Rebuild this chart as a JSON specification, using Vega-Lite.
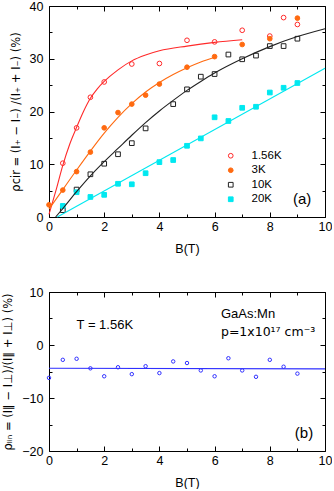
{
  "$schema": "https://vega.github.io/schema/vega-lite/v6.json",
  "padding": {"top": 0, "left": 2, "right": 0, "bottom": 0},
  "spacing": 31,
  "config": {
    "font": "Liberation Sans",
    "view": {"stroke": null},
    "axis": {"grid": false, "domainColor": "#000", "tickColor": "#000", "labelFontSize": 12.5, "titleFontSize": 11.5, "titleFontWeight": "normal", "labelColor": "#000", "titleColor": "#000", "labelFont": "Liberation Sans", "titleFont": "DejaVu Sans"}
  },
  "datasets": {
    "pts": [
      {"B": 0.5, "rho": 10.2, "T": "1.56K"}, {"B": 1.0, "rho": 16.9, "T": "1.56K"}, {"B": 1.5, "rho": 22.7, "T": "1.56K"}, {"B": 2.0, "rho": 25.6, "T": "1.56K"}, {"B": 3.0, "rho": 29.0, "T": "1.56K"}, {"B": 4.0, "rho": 29.1, "T": "1.56K"}, {"B": 5.0, "rho": 33.5, "T": "1.56K"}, {"B": 6.0, "rho": 33.2, "T": "1.56K"}, {"B": 7.0, "rho": 35.4, "T": "1.56K"}, {"B": 8.0, "rho": 34.3, "T": "1.56K"}, {"B": 8.5, "rho": 37.8, "T": "1.56K"}, {"B": 9.0, "rho": 36.5, "T": "1.56K"},
      {"B": 0.0, "rho": 2.3, "T": "3K"}, {"B": 0.5, "rho": 5.1, "T": "3K"}, {"B": 1.0, "rho": 8.6, "T": "3K"}, {"B": 1.5, "rho": 12.3, "T": "3K"}, {"B": 2.0, "rho": 16.9, "T": "3K"}, {"B": 2.5, "rho": 19.8, "T": "3K"}, {"B": 3.0, "rho": 21.4, "T": "3K"}, {"B": 3.5, "rho": 23.1, "T": "3K"}, {"B": 4.0, "rho": 25.2, "T": "3K"}, {"B": 5.0, "rho": 28.4, "T": "3K"}, {"B": 6.0, "rho": 30.4, "T": "3K"}, {"B": 7.0, "rho": 32.7, "T": "3K"}, {"B": 8.0, "rho": 33.8, "T": "3K"}, {"B": 9.0, "rho": 37.7, "T": "3K"},
      {"B": 0.5, "rho": 1.3, "T": "10K"}, {"B": 1.0, "rho": 5.2, "T": "10K"}, {"B": 1.5, "rho": 8.1, "T": "10K"}, {"B": 2.0, "rho": 10.1, "T": "10K"}, {"B": 2.5, "rho": 11.9, "T": "10K"}, {"B": 3.0, "rho": 14.0, "T": "10K"}, {"B": 3.5, "rho": 16.8, "T": "10K"}, {"B": 4.5, "rho": 21.4, "T": "10K"}, {"B": 5.0, "rho": 24.2, "T": "10K"}, {"B": 5.5, "rho": 26.6, "T": "10K"}, {"B": 6.0, "rho": 27.1, "T": "10K"}, {"B": 6.5, "rho": 30.8, "T": "10K"}, {"B": 7.0, "rho": 29.9, "T": "10K"}, {"B": 7.5, "rho": 30.6, "T": "10K"}, {"B": 8.0, "rho": 32.4, "T": "10K"}, {"B": 8.5, "rho": 32.4, "T": "10K"}, {"B": 9.0, "rho": 33.8, "T": "10K"},
      {"B": 0.5, "rho": 2.1, "T": "20K"}, {"B": 1.0, "rho": 4.7, "T": "20K"}, {"B": 1.5, "rho": 3.8, "T": "20K"}, {"B": 2.0, "rho": 4.2, "T": "20K"}, {"B": 2.5, "rho": 6.3, "T": "20K"}, {"B": 3.0, "rho": 6.2, "T": "20K"}, {"B": 3.5, "rho": 8.3, "T": "20K"}, {"B": 4.0, "rho": 10.4, "T": "20K"}, {"B": 4.5, "rho": 10.8, "T": "20K"}, {"B": 5.0, "rho": 13.5, "T": "20K"}, {"B": 5.5, "rho": 14.9, "T": "20K"}, {"B": 6.0, "rho": 18.9, "T": "20K"}, {"B": 6.5, "rho": 18.2, "T": "20K"}, {"B": 7.0, "rho": 20.7, "T": "20K"}, {"B": 7.5, "rho": 20.9, "T": "20K"}, {"B": 8.0, "rho": 23.6, "T": "20K"}, {"B": 8.5, "rho": 24.5, "T": "20K"}, {"B": 9.0, "rho": 25.4, "T": "20K"}
    ],
    "fits": [
      {"B": 0.0, "rho": 0.5, "T": "1.56K"}, {"B": 0.25, "rho": 5.0, "T": "1.56K"}, {"B": 0.5, "rho": 9.8, "T": "1.56K"}, {"B": 0.75, "rho": 13.8, "T": "1.56K"}, {"B": 1.0, "rho": 17.0, "T": "1.56K"}, {"B": 1.25, "rho": 20.0, "T": "1.56K"}, {"B": 1.5, "rho": 22.5, "T": "1.56K"}, {"B": 1.75, "rho": 24.3, "T": "1.56K"}, {"B": 2.0, "rho": 25.7, "T": "1.56K"}, {"B": 2.5, "rho": 27.9, "T": "1.56K"}, {"B": 3.0, "rho": 29.6, "T": "1.56K"}, {"B": 3.5, "rho": 30.7, "T": "1.56K"}, {"B": 4.0, "rho": 31.5, "T": "1.56K"}, {"B": 5.0, "rho": 32.4, "T": "1.56K"}, {"B": 6.0, "rho": 33.1, "T": "1.56K"}, {"B": 7.0, "rho": 33.6, "T": "1.56K"},
      {"B": 0.0, "rho": 1.5, "T": "3K"}, {"B": 0.5, "rho": 5.2, "T": "3K"}, {"B": 1.0, "rho": 8.9, "T": "3K"}, {"B": 1.5, "rho": 12.5, "T": "3K"}, {"B": 2.0, "rho": 15.9, "T": "3K"}, {"B": 2.5, "rho": 18.9, "T": "3K"}, {"B": 3.0, "rho": 21.5, "T": "3K"}, {"B": 3.5, "rho": 23.7, "T": "3K"}, {"B": 4.0, "rho": 25.5, "T": "3K"}, {"B": 4.5, "rho": 27.0, "T": "3K"}, {"B": 5.0, "rho": 28.3, "T": "3K"}, {"B": 5.5, "rho": 29.4, "T": "3K"}, {"B": 6.0, "rho": 30.3, "T": "3K"},
      {"B": 0.24, "rho": 0.0, "T": "10K"}, {"B": 0.5, "rho": 1.6, "T": "10K"}, {"B": 1.0, "rho": 4.8, "T": "10K"}, {"B": 1.5, "rho": 7.8, "T": "10K"}, {"B": 2.0, "rho": 10.5, "T": "10K"}, {"B": 2.5, "rho": 13.0, "T": "10K"}, {"B": 3.0, "rho": 15.5, "T": "10K"}, {"B": 3.5, "rho": 17.9, "T": "10K"}, {"B": 4.0, "rho": 20.1, "T": "10K"}, {"B": 4.5, "rho": 22.1, "T": "10K"}, {"B": 5.0, "rho": 24.0, "T": "10K"}, {"B": 5.5, "rho": 25.7, "T": "10K"}, {"B": 6.0, "rho": 27.3, "T": "10K"}, {"B": 7.0, "rho": 30.0, "T": "10K"}, {"B": 8.0, "rho": 32.3, "T": "10K"}, {"B": 9.0, "rho": 34.2, "T": "10K"}, {"B": 10.0, "rho": 35.7, "T": "10K"},
      {"B": 0.3, "rho": 0.0, "T": "20K"}, {"B": 10.0, "rho": 28.2, "T": "20K"}
    ],
    "lin": [
      {"B": 0.0, "rho": -6.2}, {"B": 0.5, "rho": -2.8}, {"B": 1.0, "rho": -2.6}, {"B": 1.5, "rho": -4.4}, {"B": 2.0, "rho": -5.9}, {"B": 2.5, "rho": -4.2}, {"B": 3.0, "rho": -5.5}, {"B": 3.5, "rho": -4.0}, {"B": 4.0, "rho": -5.3}, {"B": 4.5, "rho": -3.1}, {"B": 5.0, "rho": -3.4}, {"B": 5.5, "rho": -4.8}, {"B": 6.0, "rho": -5.9}, {"B": 6.5, "rho": -2.5}, {"B": 7.0, "rho": -4.8}, {"B": 7.5, "rho": -6.0}, {"B": 8.0, "rho": -2.8}, {"B": 8.5, "rho": -4.1}, {"B": 9.0, "rho": -5.4}
    ],
    "linfit": [{"B": 0.0, "rho": -4.4}, {"B": 10.0, "rho": -4.5}],
    "one": [{}]
  },
  "vconcat": [
    {
      "width": 276,
      "height": 211,
      "resolve": {"axis": {"x": "independent", "y": "independent"}},
      "layer": [
        {
          "data": {"name": "pts"},
          "mark": {"type": "point", "size": 22, "strokeWidth": 1, "opacity": 1},
          "encoding": {
            "x": {"field": "B", "type": "quantitative", "scale": {"domain": [0, 10], "nice": false, "zero": false},
              "axis": {"orient": "bottom", "title": "B(T)", "titleFont": "Liberation Sans", "titleFontSize": 12.5, "values": [0,1,2,3,4,5,6,7,8,9,10], "labelExpr": "datum.value % 2 === 0 ? datum.label : ''", "tickSize": {"condition": {"test": "datum.value % 2 === 0", "value": -5}, "value": -3}, "labelPadding": 8, "titlePadding": 10, "labelFlush": false}},
            "y": {"field": "rho", "type": "quantitative", "scale": {"domain": [0, 40], "nice": false},
              "axis": {"orient": "left", "title": "ρcir = (I₊ − I₋) /(I₊ + I₋)  (%)", "values": [0,5,10,15,20,25,30,35,40], "labelExpr": "datum.value % 10 === 0 ? datum.label : ''", "tickSize": {"condition": {"test": "datum.value % 10 === 0", "value": -5}, "value": -3}, "labelPadding": 11, "titlePadding": 8}},
            "stroke": {"field": "T", "type": "nominal", "scale": {"domain": ["1.56K", "3K", "10K", "20K"], "range": ["#ff2a2a", "#ff6a10", "#222222", "#00e8f0"]},
              "legend": {"title": null, "orient": "none", "legendX": 176, "legendY": 144, "labelFontSize": 11.5, "labelOffset": 15, "rowPadding": 1.5, "symbolSize": 22, "symbolStrokeWidth": 1}},
            "fill": {"field": "T", "type": "nominal", "scale": {"domain": ["1.56K", "3K", "10K", "20K"], "range": ["transparent", "#ff6a10", "transparent", "#00e8f0"]},
              "legend": {"title": null, "orient": "none", "legendX": 176, "legendY": 144, "labelFontSize": 11.5, "labelOffset": 15, "rowPadding": 1.5, "symbolSize": 22, "symbolStrokeWidth": 1}},
            "shape": {"field": "T", "type": "nominal", "scale": {"domain": ["1.56K", "3K", "10K", "20K"], "range": ["circle", "circle", "square", "square"]},
              "legend": {"title": null, "orient": "none", "legendX": 176, "legendY": 144, "labelFontSize": 11.5, "labelOffset": 15, "rowPadding": 1.5, "symbolSize": 22, "symbolStrokeWidth": 1}}
          }
        },
        {
          "data": {"name": "fits"},
          "mark": {"type": "line", "strokeWidth": 1.1, "interpolate": "monotone"},
          "encoding": {
            "x": {"field": "B", "type": "quantitative", "axis": null},
            "y": {"field": "rho", "type": "quantitative", "axis": null},
            "stroke": {"field": "T", "type": "nominal", "legend": null},
            "detail": {"field": "T"}
          }
        },
        {
          "data": {"name": "fits"},
          "mark": {"type": "point", "opacity": 0},
          "encoding": {
            "x": {"field": "B", "type": "quantitative",
              "axis": {"orient": "top", "title": null, "labels": false, "values": [0,1,2,3,4,5,6,7,8,9,10], "tickSize": {"condition": {"test": "datum.value % 2 === 0", "value": -5}, "value": -3}}},
            "y": {"field": "rho", "type": "quantitative",
              "axis": {"orient": "right", "title": null, "labels": false, "values": [0,5,10,15,20,25,30,35,40], "tickSize": {"condition": {"test": "datum.value % 10 === 0", "value": -5}, "value": -3}}}
          }
        },
        {
          "data": {"name": "one"},
          "mark": {"type": "text", "fontSize": 15, "font": "Liberation Sans", "align": "center", "baseline": "middle"},
          "encoding": {
            "x": {"datum": 9.17, "type": "quantitative", "axis": null},
            "y": {"datum": 3.4, "type": "quantitative", "axis": null},
            "text": {"value": "(a)"}
          }
        }
      ]
    },
    {
      "width": 276,
      "height": 159,
      "resolve": {"axis": {"x": "independent", "y": "independent"}},
      "layer": [
        {
          "data": {"name": "lin"},
          "mark": {"type": "point", "size": 12, "strokeWidth": 1, "color": "#3030ff", "opacity": 1},
          "encoding": {
            "x": {"field": "B", "type": "quantitative", "scale": {"domain": [0, 10], "nice": false, "zero": false},
              "axis": {"orient": "bottom", "title": "B(T)", "titleFont": "Liberation Sans", "titleFontSize": 12.5, "values": [0,1,2,3,4,5,6,7,8,9,10], "labelExpr": "datum.value % 2 === 0 ? datum.label : ''", "tickSize": {"condition": {"test": "datum.value % 2 === 0", "value": -5}, "value": -3}, "labelPadding": 8, "titlePadding": 10, "labelFlush": false}},
            "y": {"field": "rho", "type": "quantitative", "scale": {"domain": [-20, 10], "nice": false},
              "axis": {"orient": "left", "title": "ρₗᵢₙ = (I∥ − I⊥)/(I∥ + I⊥)  (%)", "values": [-20,-15,-10,-5,0,5,10], "labelExpr": "datum.value % 10 === 0 ? datum.label : ''", "tickSize": {"condition": {"test": "datum.value % 10 === 0", "value": -5}, "value": -3}, "labelPadding": 11, "titlePadding": 8}}
          }
        },
        {
          "data": {"name": "linfit"},
          "mark": {"type": "line", "strokeWidth": 1.1, "color": "#3030ff"},
          "encoding": {
            "x": {"field": "B", "type": "quantitative", "axis": null},
            "y": {"field": "rho", "type": "quantitative", "axis": null}
          }
        },
        {
          "data": {"name": "linfit"},
          "mark": {"type": "point", "opacity": 0},
          "encoding": {
            "x": {"field": "B", "type": "quantitative",
              "axis": {"orient": "top", "title": null, "labels": false, "values": [0,1,2,3,4,5,6,7,8,9,10], "tickSize": {"condition": {"test": "datum.value % 2 === 0", "value": -5}, "value": -3}}},
            "y": {"field": "rho", "type": "quantitative",
              "axis": {"orient": "right", "title": null, "labels": false, "values": [-20,-15,-10,-5,0,5,10], "tickSize": {"condition": {"test": "datum.value % 10 === 0", "value": -5}, "value": -3}}}
          }
        },
        {
          "data": {"name": "one"},
          "mark": {"type": "text", "fontSize": 13, "font": "Liberation Sans", "align": "left", "baseline": "middle"},
          "encoding": {
            "x": {"datum": 1.0, "type": "quantitative", "axis": null},
            "y": {"datum": 3.8, "type": "quantitative", "axis": null},
            "text": {"value": "T = 1.56K"}
          }
        },
        {
          "data": {"name": "one"},
          "mark": {"type": "text", "fontSize": 13, "font": "Liberation Sans", "align": "left", "baseline": "middle"},
          "encoding": {
            "x": {"datum": 6.23, "type": "quantitative", "axis": null},
            "y": {"datum": 5.85, "type": "quantitative", "axis": null},
            "text": {"value": "GaAs:Mn"}
          }
        },
        {
          "data": {"name": "one"},
          "mark": {"type": "text", "fontSize": 12.5, "font": "DejaVu Sans", "align": "left", "baseline": "middle"},
          "encoding": {
            "x": {"datum": 6.23, "type": "quantitative", "axis": null},
            "y": {"datum": 2.45, "type": "quantitative", "axis": null},
            "text": {"value": "p=1x10¹⁷ cm⁻³"}
          }
        },
        {
          "data": {"name": "one"},
          "mark": {"type": "text", "fontSize": 15, "font": "Liberation Sans", "align": "center", "baseline": "middle"},
          "encoding": {
            "x": {"datum": 9.24, "type": "quantitative", "axis": null},
            "y": {"datum": -16.6, "type": "quantitative", "axis": null},
            "text": {"value": "(b)"}
          }
        }
      ]
    }
  ]
}
